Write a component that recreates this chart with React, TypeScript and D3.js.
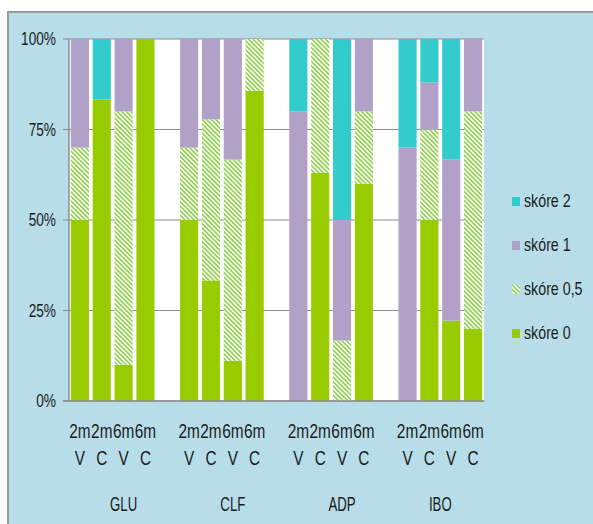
import React from "react";
import * as d3 from "d3";

const groups = ["GLU", "CLF", "ADP", "IBO"];
const subLabels = ["2m V", "2m C", "6m V", "6m C"];
const yTicks = [0, 25, 50, 75, 100];

// stacked shares in %, order: GLU(2mV,2mC,6mV,6mC), CLF(...), ADP(...), IBO(...)
const score0 = [50, 83.3, 10, 100, 50, 33.3, 11.1, 85.7, 0, 63, 0, 60, 0, 50, 22.2, 20];
const score05 = [20, 0, 70, 0, 20, 44.5, 55.6, 14.3, 0, 37, 16.7, 20, 0, 25, 0, 60];
const score1 = [30, 0, 20, 0, 30, 22.2, 33.3, 0, 80, 0, 33.3, 20, 70, 13, 44.5, 20];
const score2 = [0, 16.7, 0, 0, 0, 0, 0, 0, 20, 0, 50, 0, 30, 12, 33.3, 0];

const seriesKeys = ["s0", "s05", "s1", "s2"];
const seriesNames: Record<string, string> = {
  s0: "skóre 0",
  s05: "skóre 0,5",
  s1: "skóre 1",
  s2: "skóre 2",
};
const fills: Record<string, string> = {
  s0: "#99CC00",
  s05: "url(#hatch)",
  s1: "#B1A0C7",
  s2: "#33CCCC",
};

const W = 593;
const H = 524;
const plot = { left: 69, right: 484, top: 39, bottom: 401 };
const font = "'Liberation Sans', Arial, sans-serif";
const textColor = "#1c1c1c";

// slots: 4 bars per group, one empty slot between groups
const slots: string[] = [];
groups.forEach((g, gi) => {
  subLabels.forEach((s) => slots.push(`${g}|${s}`));
  if (gi < groups.length - 1) slots.push(`gap${gi}`);
});

const rows = slots
  .filter((s) => !s.startsWith("gap"))
  .map((id, i) => ({
    id,
    s0: score0[i],
    s05: score05[i],
    s1: score1[i],
    s2: score2[i],
  }));

// narrow text: the reference font is condensed, so squeeze it horizontally
const T = ({ x, y, size, sx, anchor = "start", baseline, children }: any) => (
  <text
    transform={`translate(${x},${y}) scale(${sx},1)`}
    textAnchor={anchor}
    dominantBaseline={baseline}
    fontFamily={font}
    fontSize={size}
    fill={textColor}
  >
    {children}
  </text>
);

const App = () => {
  const x = d3
    .scaleBand()
    .domain(slots)
    .range([plot.left, plot.right])
    .paddingInner(0.17)
    .paddingOuter(0.085);
  const y = d3.scaleLinear().domain([0, 100]).range([plot.bottom, plot.top]);
  const stacked = d3.stack<any>().keys(seriesKeys)(rows);
  const step = x.step();

  return (
    <div style={{ position: "fixed", left: 0, top: 0 }}>
      <svg width={W} height={H} style={{ display: "block" }}>
        <defs>
          <pattern
            id="hatch"
            width={3.2}
            height={3.2}
            patternUnits="userSpaceOnUse"
            patternTransform="rotate(-45)"
          >
            <rect width={3.2} height={3.2} fill="#ffffff" />
            <rect width={1.7} height={3.2} fill="#92D050" />
          </pattern>
        </defs>
        <rect x={0} y={0} width={W} height={H} fill="#ffffff" />
        <rect
          x={8}
          y={12}
          width={W}
          height={H}
          fill="#B7DDE8"
          stroke="#9a9a9a"
          strokeWidth={2}
        />
        <rect
          x={plot.left}
          y={plot.top}
          width={plot.right - plot.left}
          height={plot.bottom - plot.top}
          fill="#ffffff"
        />
        {yTicks.map((t) => (
          <g key={t}>
            <line
              x1={plot.left - 6}
              x2={plot.right}
              y1={y(t)}
              y2={y(t)}
              stroke="#8c8c8c"
              strokeWidth={1.2}
            />
            <T x={56} y={y(t)} size={19} sx={0.72} anchor="end" baseline="central">
              {t}%
            </T>
          </g>
        ))}
        {stacked.map((layer) => (
          <g key={layer.key} fill={fills[layer.key]}>
            {layer.map((d: any, i: number) =>
              d[1] - d[0] > 0 ? (
                <rect
                  key={i}
                  x={x(d.data.id)}
                  width={x.bandwidth()}
                  y={y(d[1])}
                  height={y(d[0]) - y(d[1])}
                />
              ) : null
            )}
          </g>
        ))}
        <line
          x1={plot.left}
          x2={plot.left}
          y1={plot.top}
          y2={plot.bottom}
          stroke="#8c8c8c"
          strokeWidth={1.5}
        />
        <line
          x1={plot.left - 6}
          x2={plot.right}
          y1={plot.bottom}
          y2={plot.bottom}
          stroke="#8c8c8c"
          strokeWidth={1.5}
        />
        {rows.map((r) => {
          const cx = (x(r.id) as number) + x.bandwidth() / 2;
          const [top, bottom] = r.id.split("|")[1].split(" ");
          return (
            <g key={r.id}>
              <T x={cx} y={438} size={20} sx={0.77} anchor="middle">
                {top}
              </T>
              <T x={cx} y={465} size={20} sx={0.77} anchor="middle">
                {bottom}
              </T>
            </g>
          );
        })}
        {groups.map((g, gi) => {
          const start = plot.left + gi * 5 * step;
          const end = Math.min(start + 5 * step, plot.right);
          return (
            <T key={g} x={(start + end) / 2} y={511} size={20} sx={0.66} anchor="middle">
              {g}
            </T>
          );
        })}
        {[...seriesKeys].reverse().map((k, i) => (
          <g key={k} transform={`translate(512, ${207 + i * 44})`}>
            <rect x={0} y={-10} width={8} height={9} fill={fills[k]} />
            <T x={12} y={0} size={18} sx={0.79}>
              {seriesNames[k]}
            </T>
          </g>
        ))}
      </svg>
    </div>
  );
};

export default App;
